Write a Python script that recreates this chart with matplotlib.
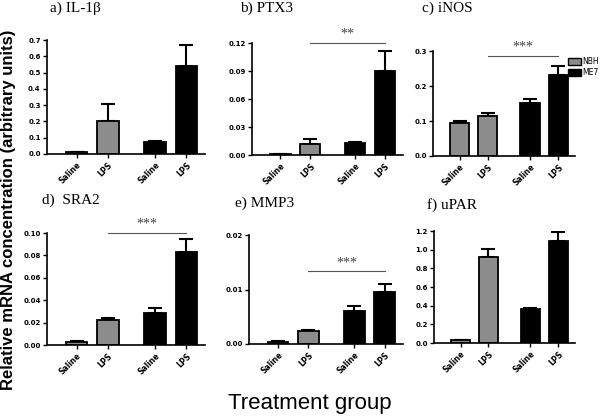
import numpy as np
import matplotlib.pyplot as plt
from matplotlib.patches import Patch

W, H = 616, 416

groups = ["Saline", "LPS", "Saline", "LPS"]
genes = ["a) IL-1β", "b) PTX3", "c) iNOS", "d)  SRA2", "e) MMP3", "f) uPAR"]

# values: NBH saline, NBH LPS, ME7 saline, ME7 LPS
il1b = [0.010, 0.205, 0.072, 0.540]
il1b_err = [0.003, 0.100, 0.008, 0.130]
ptx3 = [0.001, 0.012, 0.013, 0.090]
ptx3_err = [0.0003, 0.005, 0.001, 0.022]
inos = [0.095, 0.115, 0.153, 0.232]
inos_err = [0.004, 0.008, 0.010, 0.026]
sra2 = [0.003, 0.022, 0.029, 0.083]
sra2_err = [0.0005, 0.0025, 0.0045, 0.012]
mmp3 = [0.0004, 0.0024, 0.0061, 0.0096]
mmp3_err = [0.0002, 0.0002, 0.0008, 0.0015]
upar = [0.030, 0.920, 0.360, 1.090]
upar_err = [0.005, 0.090, 0.015, 0.100]

values = [il1b, ptx3, inos, sra2, mmp3, upar]
errors = [il1b_err, ptx3_err, inos_err, sra2_err, mmp3_err, upar_err]
yticks = [np.arange(0, 0.71, 0.1), np.arange(0, 0.121, 0.03), np.arange(0, 0.31, 0.1),
          np.arange(0, 0.101, 0.02), np.arange(0, 0.021, 0.01), np.arange(0, 1.21, 0.2)]
yfmt = ["%.1f", "%.2f", "%.1f", "%.2f", "%.2f", "%.1f"]
sig = [None, ("**", 0.12), ("***", 0.286), ("***", 0.100), ("***", 0.0134), None]

# axes boxes in pixels: left, top, right, bottom
boxes = [(47, 40, 205, 154), (252, 43, 403, 155), (433, 51, 575, 156),
         (47, 233, 205, 345), (249, 235, 403, 344), (434, 231, 575, 343)]
title_pos = [(50, 8), (240, 8), (422, 8), (42, 200), (235, 203), (427, 205)]

nbh_col = "#8c8c8c"
me7_col = "#000000"
colors = [nbh_col, nbh_col, me7_col, me7_col]
xpos = np.array([0, 1, 2.5, 3.5])

fig = plt.figure(figsize=(W / 100, H / 100), dpi=100)

for i in range(6):
    l, t, r, b = boxes[i]
    ax = fig.add_axes([l / W, 1 - b / H, (r - l) / W, (b - t) / H])
    ax.bar(xpos, values[i], width=0.68, color=colors, edgecolor="black", linewidth=1.3, zorder=2)
    ax.errorbar(xpos, values[i], yerr=[np.zeros(4), errors[i]], fmt="none",
                ecolor="black", elinewidth=1.5, capsize=5, capthick=1.5, zorder=1)
    ax.set_xlim(-0.95, 4.1)
    ax.set_ylim(0, yticks[i][-1] * 1.001)
    ax.set_yticks(yticks[i])
    ax.set_yticklabels([yfmt[i] % v for v in yticks[i]], fontsize=5, fontweight="bold")
    ax.set_xticks(xpos)
    ax.set_xticklabels(groups, rotation=45, ha="right", rotation_mode="anchor",
                       fontsize=5.5, fontweight="bold")
    for s in ["top", "right"]:
        ax.spines[s].set_visible(False)
    for s in ["left", "bottom"]:
        ax.spines[s].set_linewidth(1.2)
    ax.tick_params(width=1.0, length=3, pad=1.5)
    ax.patch.set_alpha(0)
    if sig[i] is not None:
        label, y = sig[i]
        ax.plot([1, 3.5], [y, y], color="#555555", lw=0.8, clip_on=False)
        ax.text(2.25, y * 1.02, label, ha="center", va="bottom", fontsize=10,
                color="#444444", family="Liberation Serif", clip_on=False)
    tx, ty = title_pos[i]
    fig.text(tx / W, 1 - ty / H, genes[i], ha="left", va="center", fontsize=11,
             family="Liberation Serif")

handles = [Patch(facecolor=nbh_col, edgecolor="black", label="NBH"),
           Patch(facecolor=me7_col, edgecolor="black", label="ME7")]
fig.legend(handles=handles, loc="upper left", bbox_to_anchor=(564 / W, 1 - 53 / H),
           frameon=False, fontsize=5.5, handlelength=1.7, handleheight=1.0,
           handletextpad=0.15, labelspacing=0.3, borderpad=0)

fig.text(0.013, 1 - 210 / H, "Relative mRNA concentration (arbitrary units)", rotation=90,
         ha="center", va="center", fontsize=12, fontweight="bold", family="Liberation Sans")
fig.text(310 / W, 1 - 403 / H, "Treatment group", ha="center", va="center", fontsize=16,
         family="Liberation Sans")

fig.savefig("out.png", dpi=100)
